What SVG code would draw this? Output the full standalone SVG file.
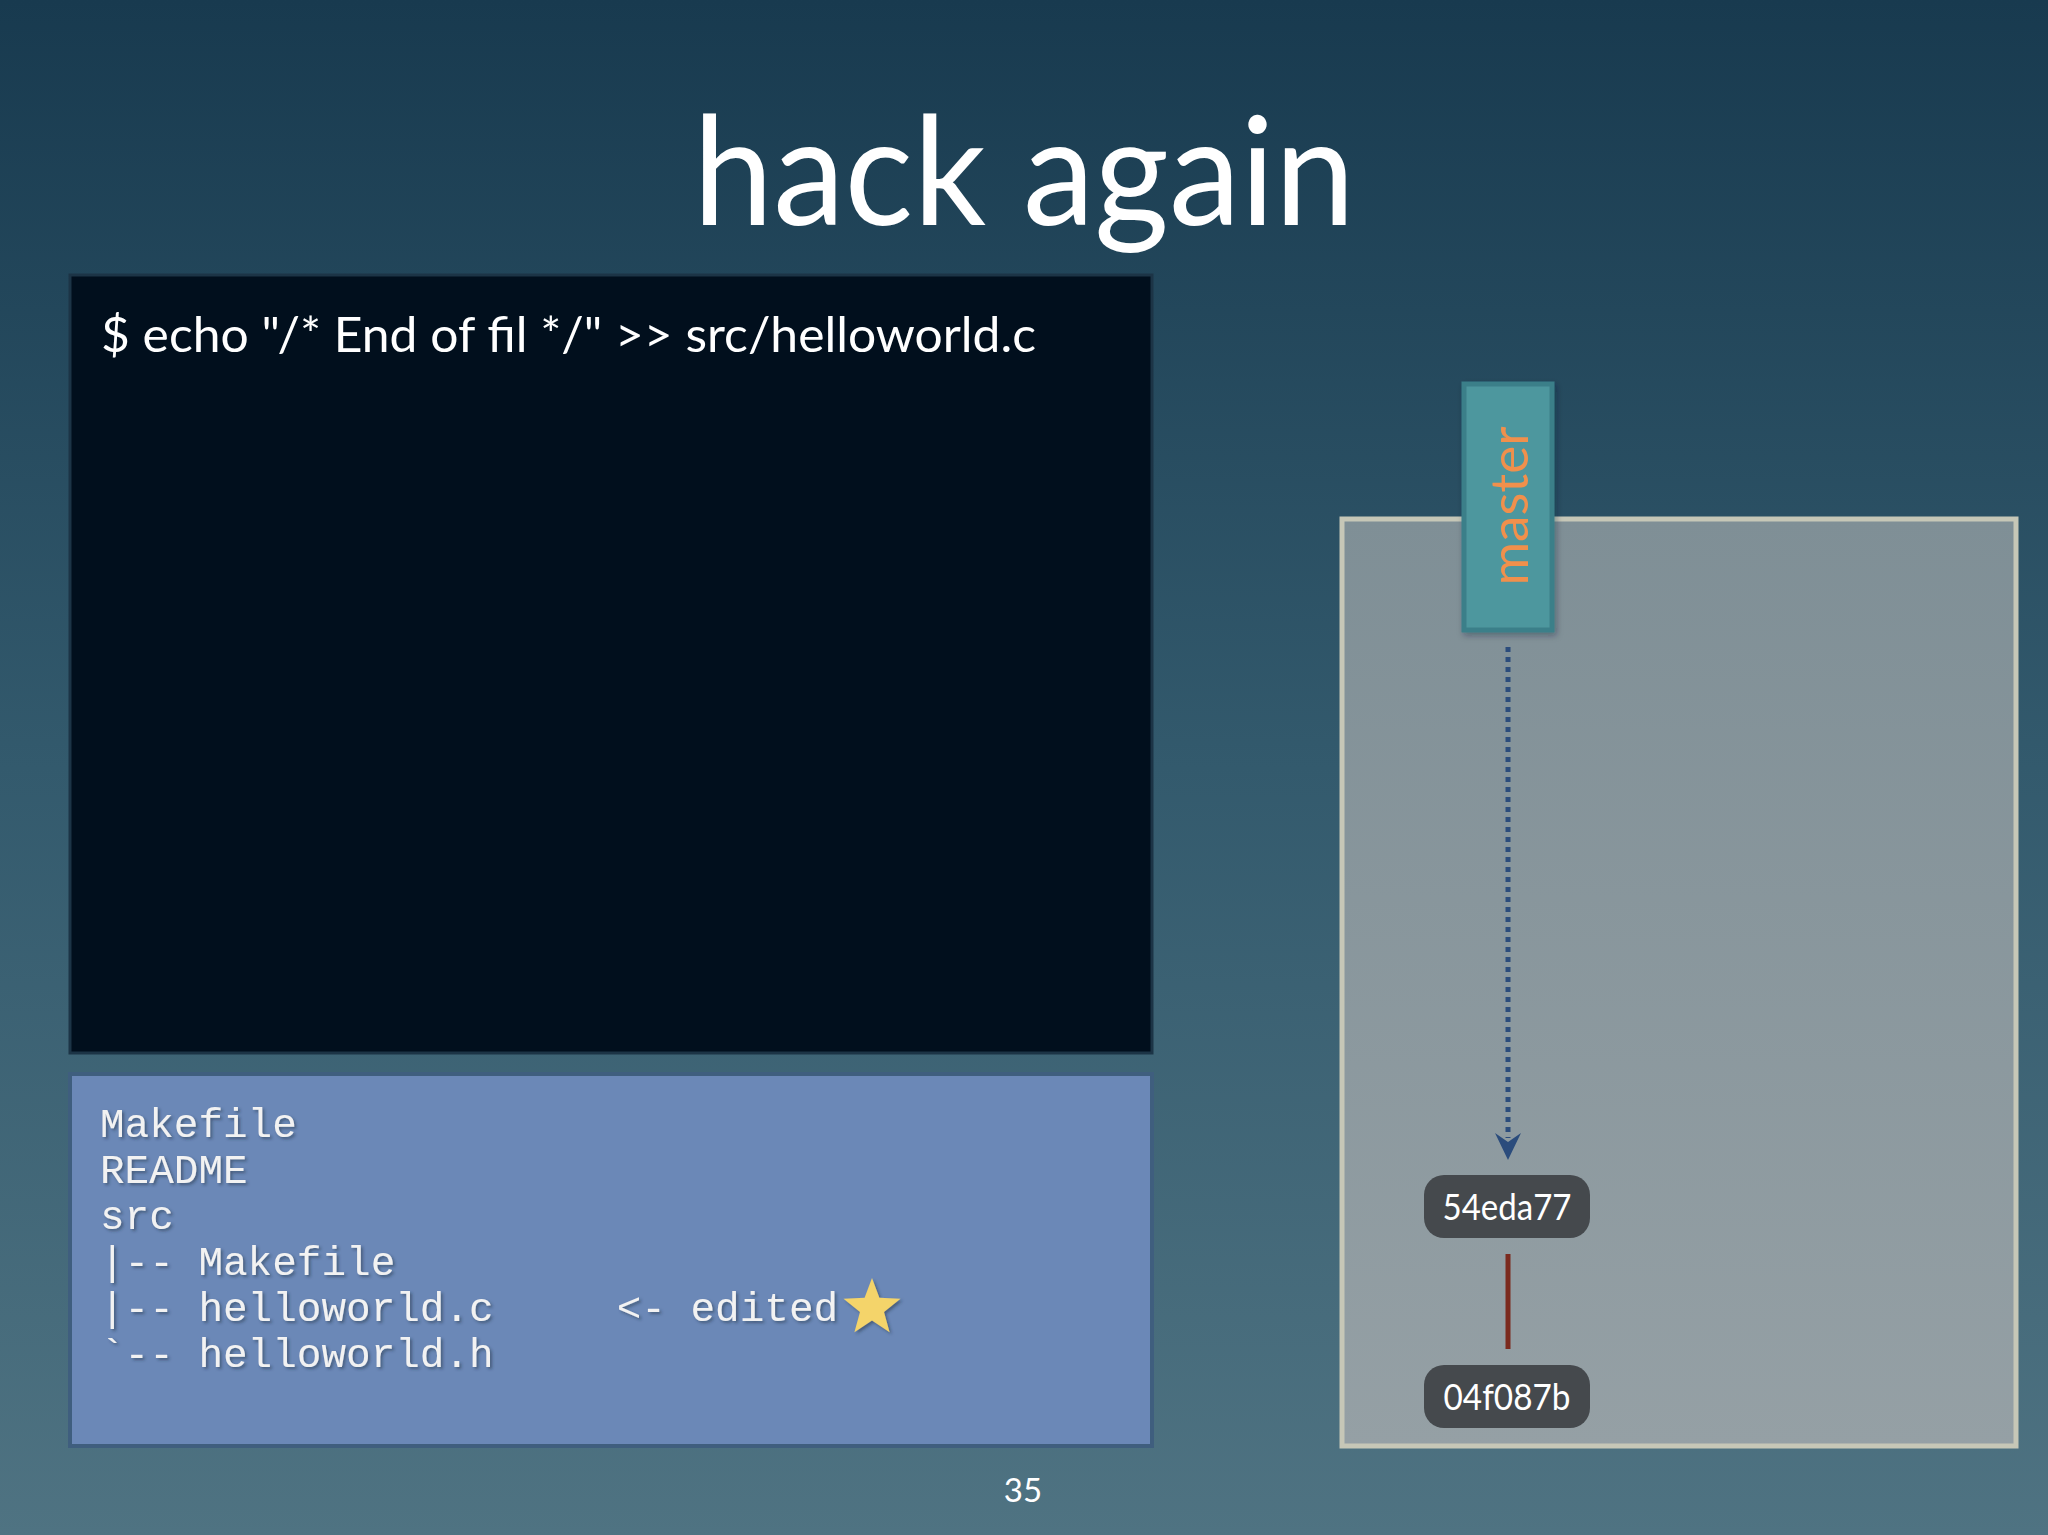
<svg xmlns="http://www.w3.org/2000/svg" width="2048" height="1535" viewBox="0 0 2048 1535">
<defs>
<linearGradient id="bg" x1="0" y1="0" x2="0" y2="1">
<stop offset="0" stop-color="#183a4f"/>
<stop offset="0.5" stop-color="#335a6d"/>
<stop offset="1" stop-color="#4f7382"/>
</linearGradient>
<linearGradient id="panel" x1="0" y1="0" x2="0" y2="1">
<stop offset="0" stop-color="#7f8f96"/>
<stop offset="1" stop-color="#95a0a5"/>
</linearGradient>
<filter id="sh" x="-10%" y="-10%" width="130%" height="130%">
<feDropShadow dx="2" dy="2" stdDeviation="1.5" flood-color="#203040" flood-opacity="0.5"/>
</filter>
<filter id="bsh" x="-10%" y="-10%" width="130%" height="130%">
<feDropShadow dx="2" dy="3" stdDeviation="3" flood-color="#102030" flood-opacity="0.35"/>
</filter>
</defs>
<style>
.sans{font-family:Lato,"Open Sans","Liberation Sans",sans-serif;}
.mono{font-family:"Liberation Mono","DejaVu Sans Mono",monospace;font-size:41px;fill:#f2f2f2;}
.commit rect{fill:#45494d;}
.commit text{font-family:Lato,"Open Sans","Liberation Sans",sans-serif;font-size:37px;fill:#ffffff;text-anchor:middle;}
</style>
<rect x="0" y="0" width="2048" height="1535" fill="url(#bg)"/>
<g id="title">
<text class="sans" x="1024" y="225" font-size="152" fill="#ffffff" text-anchor="middle" textLength="662" lengthAdjust="spacingAndGlyphs">hack again</text>
</g>
<g id="terminal">
<rect x="70" y="275" width="1082" height="778" fill="#010f1d" stroke="#1c3446" stroke-width="3"/>
<text class="sans" x="101" y="352" font-size="48" fill="#ffffff" textLength="935" lengthAdjust="spacingAndGlyphs">$ echo "/* End of fil */" &gt;&gt; src/helloworld.c</text>
</g>
<g id="working-tree">
<rect x="70" y="1074" width="1082" height="372" fill="#6b88b7" stroke="#3f5e7e" stroke-width="4"/>
<g filter="url(#sh)">
<text class="mono" x="100" y="1137" xml:space="preserve">Makefile</text>
<text class="mono" x="100" y="1183" xml:space="preserve">README</text>
<text class="mono" x="100" y="1229" xml:space="preserve">src</text>
<text class="mono" x="100" y="1275" xml:space="preserve">|-- Makefile</text>
<text class="mono" x="100" y="1321" xml:space="preserve">|-- helloworld.c     &lt;- edited</text>
<text class="mono" x="100" y="1367" xml:space="preserve">`-- helloworld.h</text>
<polygon points="872,1278 879.4,1297.8 900.5,1298.7 884,1311.9 889.6,1332.3 872,1320.6 854.4,1332.3 860,1311.9 843.5,1298.7 864.6,1297.8" fill="#f4d46a"/>
</g>
</g>
<g id="repository">
<rect x="1342" y="519" width="674" height="927" fill="url(#panel)" stroke="#c6c7b7" stroke-width="5"/>
</g>
<g id="connectors">
<line x1="1508" y1="647" x2="1508" y2="1138" stroke="#2b4c7c" stroke-width="5" stroke-dasharray="5 5"/>
<path d="M1508,1160 L1495,1133 L1508,1142 L1521,1133 Z" fill="#2b4c7c"/>
<line x1="1508" y1="1254" x2="1508" y2="1349" stroke="#7b2a1e" stroke-width="5"/>
</g>
<g id="master">
<rect x="1464" y="384" width="88" height="246" fill="#4e979e" stroke="#3b7f89" stroke-width="5" filter="url(#bsh)"/>
<text class="sans" transform="translate(1528,506) rotate(-90)" font-size="53" fill="#f0904c" text-anchor="middle">master</text>
</g>
<g id="commit-54eda77" class="commit">
<rect x="1424" y="1175" width="166" height="63" rx="20"/>
<text x="1507" y="1220" textLength="129" lengthAdjust="spacingAndGlyphs">54eda77</text>
</g>
<g id="commit-04f087b" class="commit">
<rect x="1424" y="1365" width="166" height="63" rx="20"/>
<text x="1507" y="1410" textLength="127" lengthAdjust="spacingAndGlyphs">04f087b</text>
</g>
<g id="page-number">
<text class="sans" x="1023" y="1502" font-size="33" fill="#ffffff" text-anchor="middle">35</text>
</g>
</svg>
